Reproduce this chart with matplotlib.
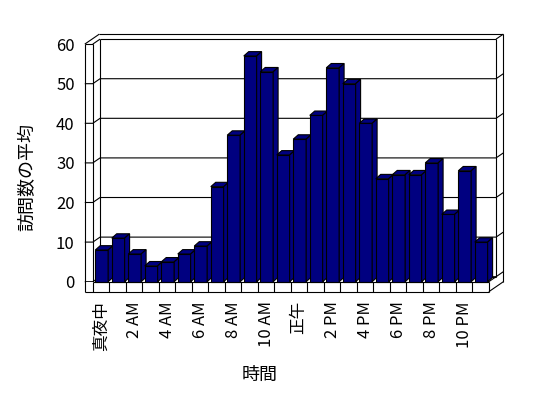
import matplotlib
matplotlib.use("Agg")
import matplotlib.pyplot as plt
from matplotlib.patches import Polygon

plt.rcParams["font.family"] = ["Noto Sans CJK JP", "DejaVu Sans"]

# データ: 時間帯ごとの訪問数の平均
hours = list(range(24))
visits = [8, 11, 7, 4, 5, 7, 9, 24, 37, 57, 53, 32,
          36, 42, 54, 50, 40, 26, 27, 27, 30, 17, 28, 10]
tick_pos = [h + 0.5 for h in hours[::2]]
tick_labels = ["真夜中", "2 AM", "4 AM", "6 AM", "8 AM", "10 AM",
               "正午", "2 PM", "4 PM", "6 PM", "8 PM", "10 PM"]
y_ticks = [0, 10, 20, 30, 40, 50, 60]

# 3D風の奥行き (データ単位)
DX, DY = 0.44, 1.26      # 壁の奥行き
T = 0.485                # 左壁の厚さ
F = 2.53                 # 床の厚さ
BX, BY = 0.30, 1.10      # 棒の奥行き
B0, BW = 0.15, 0.78      # 棒の位置と幅
NAVY = "#000080"
LW = 0.8
N = len(hours)
YMAX = y_ticks[-1]

fig = plt.figure(figsize=(5.48, 3.98), dpi=100)
ax = fig.add_axes([92.8 / 548, 1 - 281.7 / 398, 396 / 548, 237.6 / 398])
ax.set_xlim(0, N)
ax.set_ylim(0, YMAX)
ax.patch.set_visible(False)
for s in ax.spines.values():
    s.set_visible(False)


def line(xs, ys, z=1):
    ax.plot(xs, ys, color="black", lw=LW, clip_on=False, zorder=z,
            solid_capstyle="butt")


# 奥の壁
line([DX, N + DX], [YMAX + DY] * 2)
line([-T + 2 * DX, N + 2 * DX], [YMAX + 2 * DY] * 2)
line([N + DX, N + 2 * DX], [YMAX + DY, YMAX + 2 * DY])
line([N + DX, N + DX], [DY, YMAX + DY])
line([N + 2 * DX, N + 2 * DX], [-F + 2 * DY, YMAX + 2 * DY])
line([DX, DX], [DY, YMAX + DY])
line([DX, N + DX], [DY, DY])

# 目盛線
for g in y_ticks[:-1]:
    line([-T, 0, DX, N + DX, N + 2 * DX],
         [g, g, g + DY, g + DY, g + 2 * DY])

# 左の壁
line([-T, -T], [-F, YMAX], z=3)
line([0, 0], [0, YMAX], z=1)
line([-T, 0], [YMAX, YMAX], z=3)
line([-T, -T + 2 * DX], [YMAX, YMAX + 2 * DY], z=3)
line([0, DX], [YMAX, YMAX + DY], z=3)

# 床
ax.add_patch(Polygon([(-T, -F), (N, -F), (N, 0), (-T, 0)], closed=True,
                     facecolor="white", edgecolor="none", clip_on=False, zorder=2))
line([-T, N], [-F, -F], z=3)
line([0, N], [0, 0], z=3)
for k in range(0, N + 1):
    line([k, k], [-F, 0], z=3)
line([N, N + 2 * DX], [-F, -F + 2 * DY], z=3)
line([N, N + DX], [0, DY], z=3)

# 棒
for i, v in zip(hours, visits):
    x0 = i + B0
    x1 = x0 + BW
    faces = [
        [(x0, 0), (x1, 0), (x1, v), (x0, v)],
        [(x0, v), (x1, v), (x1 + BX, v + BY), (x0 + BX, v + BY)],
        [(x1, 0), (x1 + BX, BY), (x1 + BX, v + BY), (x1, v)],
    ]
    for f in faces:
        ax.add_patch(Polygon(f, closed=True, facecolor=NAVY, edgecolor="black",
                             lw=LW, clip_on=False, zorder=2, joinstyle="miter"))

ax.set_yticks(y_ticks)
ax.set_xticks(tick_pos)
ax.set_xticklabels(tick_labels, rotation=90, fontsize=12)
ax.tick_params(axis="y", length=0, pad=13, labelsize=12)
ax.tick_params(axis="x", length=0, pad=14)

ax.set_xlabel("時間", fontsize=13)
ax.xaxis.set_label_coords(0.422, -0.393)
ax.xaxis.label.set_va("center")
ax.set_ylabel("訪問数の平均", fontsize=13)
ax.yaxis.set_label_coords(-0.164, 0.44)
ax.yaxis.label.set_va("center")

fig.savefig("out.png", dpi=100)
